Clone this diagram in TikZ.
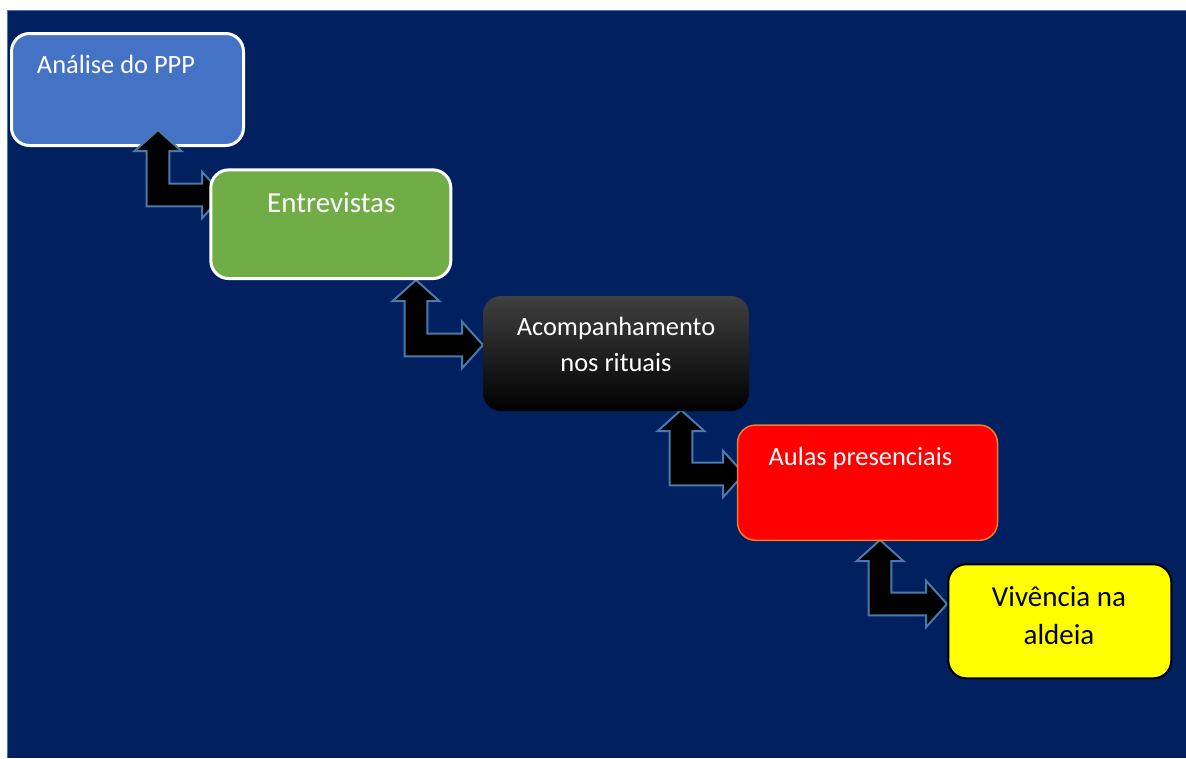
\documentclass[tikz,border=0pt]{standalone}
\usepackage{fontspec}
\setmainfont{Carlito}
\usetikzlibrary{calc}

\definecolor{navy}{HTML}{002060}
\definecolor{frameblue}{HTML}{4472C4}
\definecolor{boxblue}{HTML}{4472C4}
\definecolor{boxgreen}{HTML}{70AD47}
\definecolor{boxred}{HTML}{FF0000}
\definecolor{boxyellow}{HTML}{FFFF00}
\definecolor{boxorange}{HTML}{ED7D31}
\definecolor{arrowedge}{HTML}{4A7AAA}

% bent double arrow: up tip #1, right tip #2
\newcommand{\bentarrow}[2]{%
  \draw[bentarr]
    (#1) -- ($(#1)+(23.3,21)$) -- ($(#1)+(11.3,21)$)
    -- ($(#1|-#2)+(11.3,-11.3)$) -- ($(#2)+(-21,-11.3)$)
    -- ($(#2)+(-21,-23.3)$) -- (#2) -- ($(#2)+(-21,23.3)$)
    -- ($(#2)+(-21,11.3)$) -- ($(#1|-#2)+(-11.3,11.3)$)
    -- ($(#1)+(-11.3,21)$) -- ($(#1)+(-23.3,21)$) -- cycle;}

\tikzset{
  stepbox/.style={rectangle, rounded corners=18pt, inner sep=0pt},
  bentarr/.style={fill=black, draw=arrowedge, line width=2pt, line join=miter},
  lbl/.style={anchor=base, inner sep=0pt, text=white},
  small/.style={font=\fontsize{26.4}{32}\selectfont},
  big/.style={font=\fontsize{29}{35}\selectfont},
}

\begin{document}
\begin{tikzpicture}[x=1pt, y=-1pt]
  \useasboundingbox (0,0) rectangle (1186,758);
  % page backdrop
  \fill[white] (0,0) rectangle (1186,758);
  \fill[navy] (7,10) rectangle (1186,758);
  \draw[frameblue, line width=1pt] (7.5,758) -- (7.5,10.5) -- (1186,10.5);

  % arrow end points
  \coordinate (u1) at (158,130);  \coordinate (r1) at (223,195);
  \coordinate (u2) at (416,280);  \coordinate (r2) at (483,345);
  \coordinate (u3) at (681,410);  \coordinate (r3) at (744,474);
  \coordinate (u4) at (880,540);  \coordinate (r4) at (947,604);

  \node[stepbox, fill=boxblue, draw=white, line width=3pt,
        minimum width=232pt, minimum height=112pt] (b1) at (127.5,89.5) {};
  \node[lbl, small] (t1) at (116,73.3) {Análise do PPP};

  \bentarrow{u1}{r1}
  \bentarrow{u2}{r2}
  \bentarrow{u3}{r3}
  \bentarrow{u4}{r4}

  \node[stepbox, fill=boxgreen, draw=white, line width=3pt,
        minimum width=240pt, minimum height=108.7pt] (b2) at (330.8,224.2) {};
  \node[lbl, big] (t2) at (331.3,212.7) {Entrevistas};

  \node[stepbox, top color=black!75, middle color=black, bottom color=black,
        minimum width=266pt, minimum height=115pt] (b3) at (616,353.5) {};
  \node[lbl, small] (t3a) at (616,335.7) {Acompanhamento};
  \node[lbl, small] (t3b) at (616,371) {nos rituais};

  \node[stepbox, fill=boxred, draw=boxorange, line width=1.5pt,
        minimum width=260pt, minimum height=115.2pt] (b4) at (867.5,482.7) {};
  \node[lbl, small] (t4) at (860.4,465) {Aulas presenciais};

  \node[stepbox, fill=boxyellow, draw=black, line width=2pt,
        minimum width=223pt, minimum height=114pt] (b5) at (1059.8,621.3) {};
  \node[lbl, big, text=black] (t5a) at (1059,606.7) {Vivência na};
  \node[lbl, big, text=black] (t5b) at (1059,644) {aldeia};
\end{tikzpicture}
\end{document}
